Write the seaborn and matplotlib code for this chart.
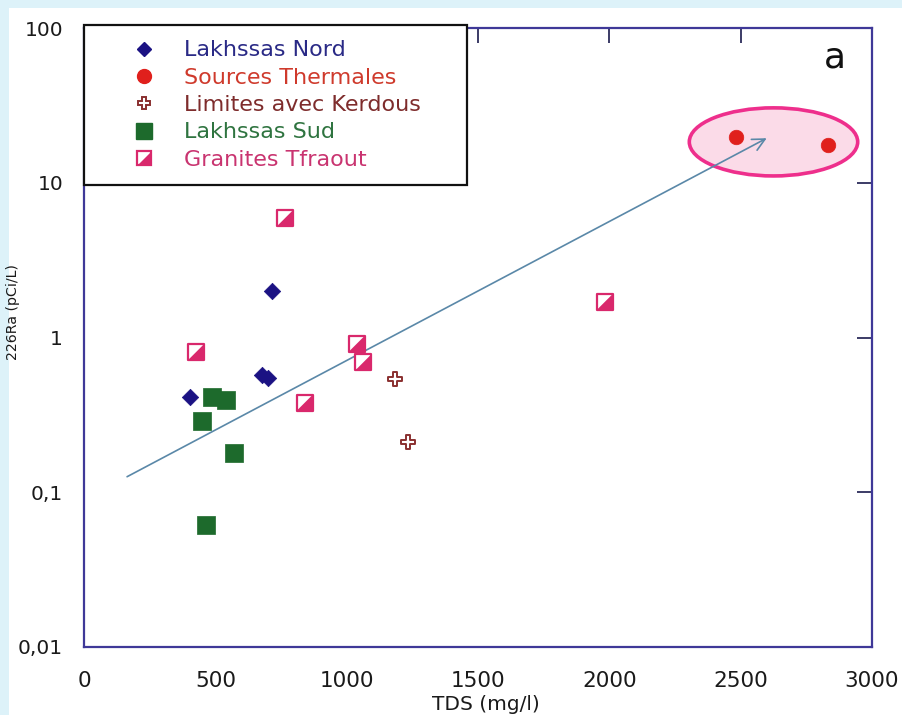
import matplotlib
matplotlib.use("Agg")
import matplotlib.pyplot as plt
import seaborn as sns
import pandas as pd
from matplotlib.lines import Line2D
from matplotlib.patches import Ellipse, Rectangle
from matplotlib.legend_handler import HandlerTuple
from matplotlib.ticker import FixedLocator, FixedFormatter, NullLocator

# --- data: TDS (mg/l) vs 226Ra (pCi/L) ---
nord_tds = [404, 716, 678, 700]
nord_ra = [0.41, 2.0, 0.57, 0.55]

thermal_tds = [2482, 2831]
thermal_ra = [19.8, 17.5]

kerdous_tds = [1184, 1234]
kerdous_ra = [0.54, 0.21]

sud_tds = [486, 541, 448, 572, 463]
sud_ra = [0.41, 0.395, 0.29, 0.18, 0.061]

granite_tds = [765, 425, 1038, 1063, 841, 1983]
granite_ra = [5.9, 0.80, 0.91, 0.69, 0.38, 1.70]

trend_tds = [164, 2599]
trend_ra = [0.126, 19.4]

group_names = ["Lakhssas Nord", "Sources Thermales", "Limites avec Kerdous",
               "Lakhssas Sud", "Granites Tfraout"]
label_colors = ["#2a2a86", "#cf3a2c", "#7e2c2c", "#2f7440", "#c93470"]

x_ticks = [0, 500, 1000, 1500, 2000, 2500, 3000]
y_ticks = [0.01, 0.1, 1, 10, 100]
y_tick_labels = ["0,01", "0,1", "1", "10", "100"]

NAVY = "#1b1283"
RED = "#e0201c"
BROWN = "#8a3030"
GREEN = "#1d6a2c"
PINK = "#d9286c"
FRAME = "#3f3898"

sns.set_theme(style="white")
plt.rcParams["font.family"] = ["DejaVu Sans"]

fig = plt.figure(figsize=(9.02, 7.15), dpi=100)
fig.patch.set_facecolor("#ddf2f9")
fig.add_artist(Rectangle((9 / 902, 0), 1, 1 - 8 / 715, transform=fig.transFigure,
                         facecolor="white", edgecolor="none", zorder=0))

ax = fig.add_axes([84 / 902, 1 - 647 / 715, 788 / 902, 619 / 715])
ax.set_facecolor("white")

def frame(x, y):
    return pd.DataFrame({"tds": x, "ra": y})

sns.scatterplot(data=frame(nord_tds, nord_ra), x="tds", y="ra", ax=ax,
                marker="D", s=70, color=NAVY, edgecolor=NAVY, linewidth=0.5, zorder=4)
sns.scatterplot(data=frame(thermal_tds, thermal_ra), x="tds", y="ra", ax=ax,
                marker="o", s=110, color=RED, edgecolor=RED, linewidth=0.5, zorder=4)
sns.scatterplot(data=frame(kerdous_tds, kerdous_ra), x="tds", y="ra", ax=ax,
                marker="P", s=95, facecolor="white", edgecolor=BROWN, linewidth=1.4, zorder=4)
sns.scatterplot(data=frame(sud_tds, sud_ra), x="tds", y="ra", ax=ax,
                marker="s", s=165, color=GREEN, edgecolor=GREEN, linewidth=0.5, zorder=4)

half_square = [(-1, -1), (1, -1), (1, 1), (-1, -1)]
sns.scatterplot(data=frame(granite_tds, granite_ra), x="tds", y="ra", ax=ax,
                marker="s", s=135, facecolor="white", edgecolor=PINK, linewidth=1.6, zorder=4)
sns.scatterplot(data=frame(granite_tds, granite_ra), x="tds", y="ra", ax=ax,
                marker=half_square, s=135, color=PINK, edgecolor="none", linewidth=0, zorder=5)

# trend arrow toward the thermal springs
ax.annotate("", xy=(trend_tds[1], trend_ra[1]), xytext=(trend_tds[0], trend_ra[0]),
            arrowprops=dict(arrowstyle="->", color="#5a88a8", lw=1.2,
                            mutation_scale=22, shrinkA=0, shrinkB=0), zorder=3)

# highlight of the thermal group
ax.add_patch(Ellipse((0.875, 0.816), 0.2137, 0.110, transform=ax.transAxes,
                     facecolor="#fbdbe8", edgecolor="#ee2f8c", lw=2.6, zorder=1))

ax.text(0.953, 0.952, "a", transform=ax.transAxes, fontsize=26, color="#111111",
        ha="center", va="center")

ax.set_yscale("log")
ax.set_xlim(0, 3000)
ax.set_ylim(0.01, 100)
ax.xaxis.set_major_locator(FixedLocator(x_ticks))
ax.yaxis.set_major_locator(FixedLocator(y_ticks))
ax.yaxis.set_major_formatter(FixedFormatter(y_tick_labels))
ax.yaxis.set_minor_locator(NullLocator())
ax.xaxis.set_minor_locator(NullLocator())

ax.tick_params(axis="both", which="major", direction="in", length=11, width=1.3,
               top=True, right=True, color="#2c2c5a")
ax.tick_params(axis="y", pad=15, labelsize=14.5, labelcolor="#1a1a1a")
ax.tick_params(axis="x", pad=17, labelsize=15.5, labelcolor="#1a1a1a")

ax.set_xlabel("TDS (mg/l)", fontsize=14.5, color="#1a1a1a")
ax.set_ylabel("226Ra (pCi/L)", fontsize=10.2, color="#1a1a1a")
ax.xaxis.set_label_coords(0.51, -0.077)
ax.yaxis.set_label_coords(-0.081, 0.541)

for sp in ax.spines.values():
    sp.set_visible(True)
    sp.set_color(FRAME)
    sp.set_linewidth(1.6)

# legend
handles = [
    Line2D([], [], ls="none", marker="D", ms=7.5, color=NAVY),
    Line2D([], [], ls="none", marker="o", ms=10, color=RED),
    Line2D([], [], ls="none", marker="P", ms=9, markerfacecolor="white",
           markeredgecolor=BROWN, markeredgewidth=1.4),
    Line2D([], [], ls="none", marker="s", ms=11, color=GREEN),
    (Line2D([], [], ls="none", marker="s", ms=10, markerfacecolor="white",
            markeredgecolor=PINK, markeredgewidth=1.6),
     Line2D([], [], ls="none", marker=half_square, ms=10, color=PINK, markeredgewidth=0)),
]
leg = ax.legend(handles, group_names, loc="upper left",
                bbox_to_anchor=(0.0, 0.7, 0.486, 0.305), mode="expand",
                borderaxespad=0, fontsize=16, frameon=True, fancybox=False,
                handlelength=4.0, handletextpad=-0.2, borderpad=0.7,
                labelspacing=0.33, numpoints=1,
                handler_map={tuple: HandlerTuple(ndivide=1, pad=0)})
leg.get_frame().set_edgecolor("#111111")
leg.get_frame().set_linewidth(1.6)
leg.get_frame().set_alpha(1)
leg.set_zorder(6)
for txt, c in zip(leg.get_texts(), label_colors):
    txt.set_color(c)

fig.savefig("out.png", dpi=100, facecolor=fig.get_facecolor())
